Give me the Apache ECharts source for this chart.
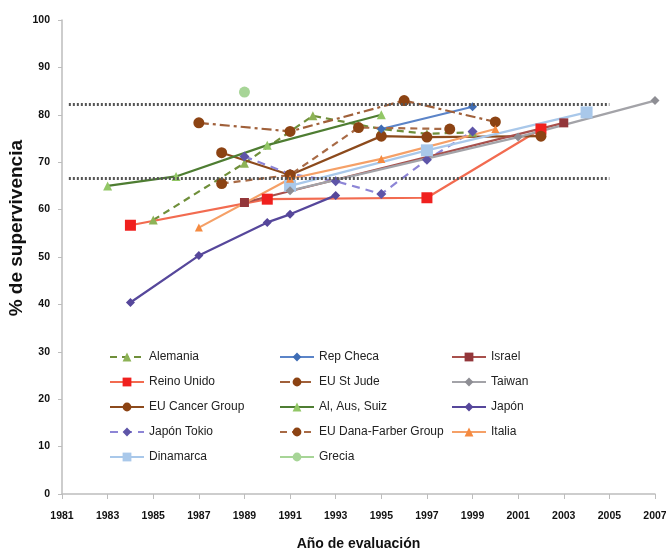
<!DOCTYPE html>
<html><head><meta charset="utf-8">
<script src="https://cdn.jsdelivr.net/npm/echarts@6/dist/echarts.min.js"></script>
<style>html,body{margin:0;padding:0;background:#fff}#c{width:666px;height:551px}</style>
</head><body><div id="c"></div><script>
// ---- data ----
const alemania      = [[1985,57.8],[1989,69.8],[1992,79.8],[1995,77.0],[1997,76.0],[1999,76.3]];
const reinoUnido    = [[1984,56.7],[1990,62.2],[1997,62.5],[2002,77.0]];
const euCancer      = [[1988,72.0],[1991,67.3],[1995,75.5],[1997,75.3],[2002,75.5]];
const japonTokio    = [[1989,71.2],[1991,67.5],[1993,66.0],[1995,63.3],[1997,70.5],[1999,76.5]];
const dinamarca     = [[1991,65.0],[1997,72.5],[2004,80.5]];
const repCheca      = [[1995,77.0],[1999,81.7]];
const euStJude      = [[1987,78.3],[1991,76.5],[1996,83.0],[2000,78.5]];
const alAusSuiz     = [[1983,65.0],[1986,67.0],[1990,73.6],[1995,80.0]];
const euDanaFarber  = [[1988,65.5],[1991,67.3],[1994,77.3],[1998,77.0]];
const grecia        = [[1989,84.8]];
const israel        = [[1989,61.5],[2003,78.3]];
const taiwan        = [[1991,64.0],[2001,75.3],[2007,83.0]];
const japon         = [[1984,40.4],[1987,50.3],[1990,57.3],[1991,59.0],[1993,63.0]];
const italia        = [[1987,56.2],[1991,66.5],[1995,70.7],[2000,77.0]];
const refLevels     = [82.2, 66.6];
const refRange      = [1981.3, 2005];
const legendCol1 = ['Alemania','Reino Unido','EU Cancer Group','Japón Tokio','Dinamarca'];
const legendCol2 = ['Rep Checa','EU St Jude','Al, Aus, Suiz','EU Dana-Farber Group','Grecia'];
const legendCol3 = ['Israel','Taiwan','Japón','Italia'];

const FONT = 'Liberation Sans Narrow, Liberation Sans, sans-serif';
function mk(name, data, color, mcolor, symbol, dash, size){
  return {name, type:'line', data, symbol, symbolSize:size||9,
    lineStyle:{color, width:2.2, type:dash||'solid'},
    itemStyle:{color:mcolor||color, borderWidth:0},
    emphasis:{disabled:true}, z:3};
}
const series = [
  mk('Alemania', alemania, '#6F8F3A', '#8DB356', 'triangle', [7,5], 9),
  mk('Reino Unido', reinoUnido, '#F26B50', '#F0201E', 'rect', 'solid', 11),
  mk('EU Cancer Group', euCancer, '#8C4A1C', '#8C4313', 'circle', 'solid', 11),
  mk('Japón Tokio', japonTokio, '#8D85D6', '#5E55A8', 'diamond', [8,6], 10),
  mk('Dinamarca', dinamarca, '#A9C8EA', '#A9C8EA', 'rect', 'solid', 12),
  mk('Rep Checa', repCheca, '#5B84C8', '#3F6DB5', 'diamond', 'solid', 9),
  mk('EU St Jude', euStJude, '#A0603A', '#8C4313', 'circle', [10,4,3,4], 11),
  mk('Al, Aus, Suiz', alAusSuiz, '#4E7D32', '#92C766', 'triangle', 'solid', 9),
  mk('EU Dana-Farber Group', euDanaFarber, '#A86A45', '#8C4313', 'circle', [7,5], 11),
  mk('Grecia', grecia, '#A7D597', '#A7D597', 'circle', 'solid', 11),
  mk('Israel', israel, '#A8504C', '#93363A', 'rect', 'solid', 9),
  mk('Taiwan', taiwan, '#A3A3A8', '#8E8E94', 'diamond', 'solid', 9),
  mk('Japón', japon, '#56479B', '#56479B', 'diamond', 'solid', 9),
  mk('Italia', italia, '#F5A067', '#F58A40', 'triangle', 'solid', 8)
];
series.push({
  name:'ref', type:'line', data:[], silent:true,
  markLine:{symbol:'none', silent:true, label:{show:false},
    lineStyle:{color:'#555', type:[2,2], width:3},
    data: refLevels.map(v=>[{coord:[refRange[0],v]},{coord:[refRange[1],v]}])}
});

function leg(data, left){
  return {data, orient:'vertical', left, top:346, itemGap:13, itemWidth:34, itemHeight:11,
    textStyle:{fontSize:12, color:'#222', fontFamily:FONT},
    selectedMode:false};
}

const chart = echarts.init(document.getElementById('c'));
chart.setOption({
  animation:false,
  backgroundColor:'#fff',
  grid:{left:62, right:11, top:20, bottom:57, containLabel:false, outerBoundsMode:'none'},
  legend:[leg(legendCol1,104), leg(legendCol2,274), leg(legendCol3,446)],
  xAxis:{type:'value', min:1981, max:2007, interval:2,
    name:'Año de evaluación', nameLocation:'middle', nameGap:43,
    nameTextStyle:{fontSize:14, fontWeight:'bold', color:'#111', fontFamily:FONT},
    axisLine:{lineStyle:{color:'#bdbdbd', width:1.5}},
    axisTick:{show:true, length:5, lineStyle:{color:'#bdbdbd'}},
    splitLine:{show:false},
    axisLabel:{formatter:v=>String(v), fontSize:10.5, fontWeight:'bold', color:'#111', margin:17,
      fontFamily:FONT}},
  yAxis:{type:'value', min:0, max:100, interval:10,
    axisLine:{show:true, lineStyle:{color:'#bdbdbd', width:1.5}},
    axisTick:{show:true, length:4, lineStyle:{color:'#bdbdbd'}},
    splitLine:{show:false},
    axisLabel:{fontSize:10.5, fontWeight:'bold', color:'#111', margin:12, fontFamily:FONT}},
  graphic:[{type:'text', left:7, top:140, rotation:Math.PI/2,
    style:{text:'% de supervivencia', fontSize:19, fontWeight:'bold', fill:'#111', fontFamily:FONT}}],
  series
});
</script></body></html>
